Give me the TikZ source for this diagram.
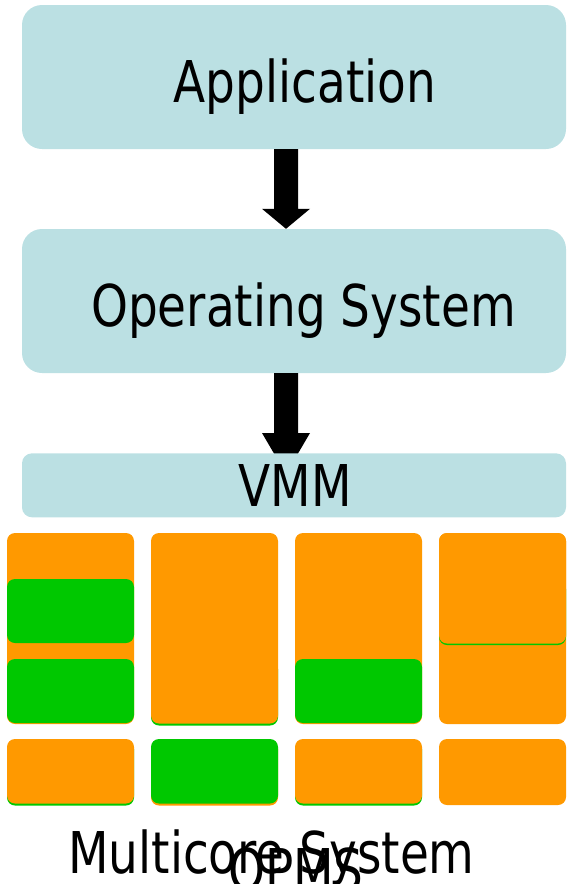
\documentclass[tikz,border=0pt]{standalone}
\usepackage{fontspec}
\setmainfont{DejaVu Sans}
\usetikzlibrary{calc}

\definecolor{layerblue}{RGB}{187,224,227}
\definecolor{busy}{RGB}{255,153,0}
\definecolor{idle}{RGB}{0,200,0}

\tikzset{
  layerbox/.style={fill=layerblue, draw=none, rounded corners=20pt, inner sep=0pt},
  thinlayer/.style={layerbox, rounded corners=10pt},
  lbl/.style={anchor=base, inner sep=0pt, font=\fontsize{57.6}{60}\selectfont},
  slot/.style={rounded corners=8pt},
  blockarrow/.style={fill=black}
}
\newcommand\narrowtext[1]{\scalebox{0.815}[1]{#1}}

\begin{document}
\begin{tikzpicture}[x=1pt,y=-1pt]
\useasboundingbox (0,0) rectangle (572,884);

% software layers
\node[layerbox, minimum width=544pt, minimum height=144pt] (app) at (294,77) {};
\node[layerbox, minimum width=544pt, minimum height=144pt] (os) at (294,301) {};
\node[lbl] (apptext) at (305,102.7) {\narrowtext{Application}};
\node[lbl] (ostext) at (303.5,326) {\narrowtext{Operating System}};

% block arrows between the layers
\coordinate (a1top) at ($(app.south)+(-8,0)$);
\coordinate (a1tip) at ($(os.north)+(-8,0)$);
\fill[blockarrow] ($(a1top)+(-12,0)$) -- ($(a1top)+(12,0)$) -- ($(a1tip)+(12,-20)$)
  -- ($(a1tip)+(24,-20)$) -- (a1tip) -- ($(a1tip)+(-24,-20)$) -- ($(a1tip)+(-12,-20)$) -- cycle;

\coordinate (a2top) at ($(os.south)+(-8,0)$);
\coordinate (a2tip) at (286,474);
\fill[blockarrow] ($(a2top)+(-12,0)$) -- ($(a2top)+(12,0)$) -- ($(a2tip)+(12,-41)$)
  -- ($(a2tip)+(24,-41)$) -- (a2tip) -- ($(a2tip)+(-24,-41)$) -- ($(a2tip)+(-12,-41)$) -- cycle;

% virtual machine monitor
\node[thinlayer, minimum width=544pt, minimum height=64pt] (vmm) at (294,485.3) {};
\node[lbl] (vmmtext) at (295,506) {\narrowtext{VMM}};

% core 1
\fill[busy, slot] (7,533) rectangle (134,724);
\fill[idle, slot] (7,579) rectangle (134,643);
\fill[idle, slot] (7,659) rectangle (134,723);
\fill[idle, slot] (7,741) rectangle (134,805.5);
\fill[busy, slot] (7,739) rectangle (134,803.5);

% core 2
\fill[idle, slot] (151,661) rectangle (278,725.5);
\fill[busy, slot] (151,533) rectangle (278,723.5);
\fill[busy, slot] (151,741) rectangle (278,805.5);
\fill[idle, slot] (151,739) rectangle (278,803.5);

% core 3
\fill[busy, slot] (295,533) rectangle (422,724);
\fill[idle, slot] (295,659) rectangle (422,723);
\fill[idle, slot] (295,741) rectangle (422,805.5);
\fill[busy, slot] (295,739) rectangle (422,803.5);

% core 4
\fill[busy, slot] (439,533) rectangle (566,724);
\fill[idle, slot] (439,581) rectangle (566,645);
\fill[busy, slot] (439,533) rectangle (566,643.5);
\fill[busy, slot] (439,739) rectangle (566,805);

% captions
\node[lbl] (mctext) at (271.5,873) {\narrowtext{Multicore System}};
\node[lbl] (opms) at (296,890) {\narrowtext{OPMS}};
\end{tikzpicture}
\end{document}
